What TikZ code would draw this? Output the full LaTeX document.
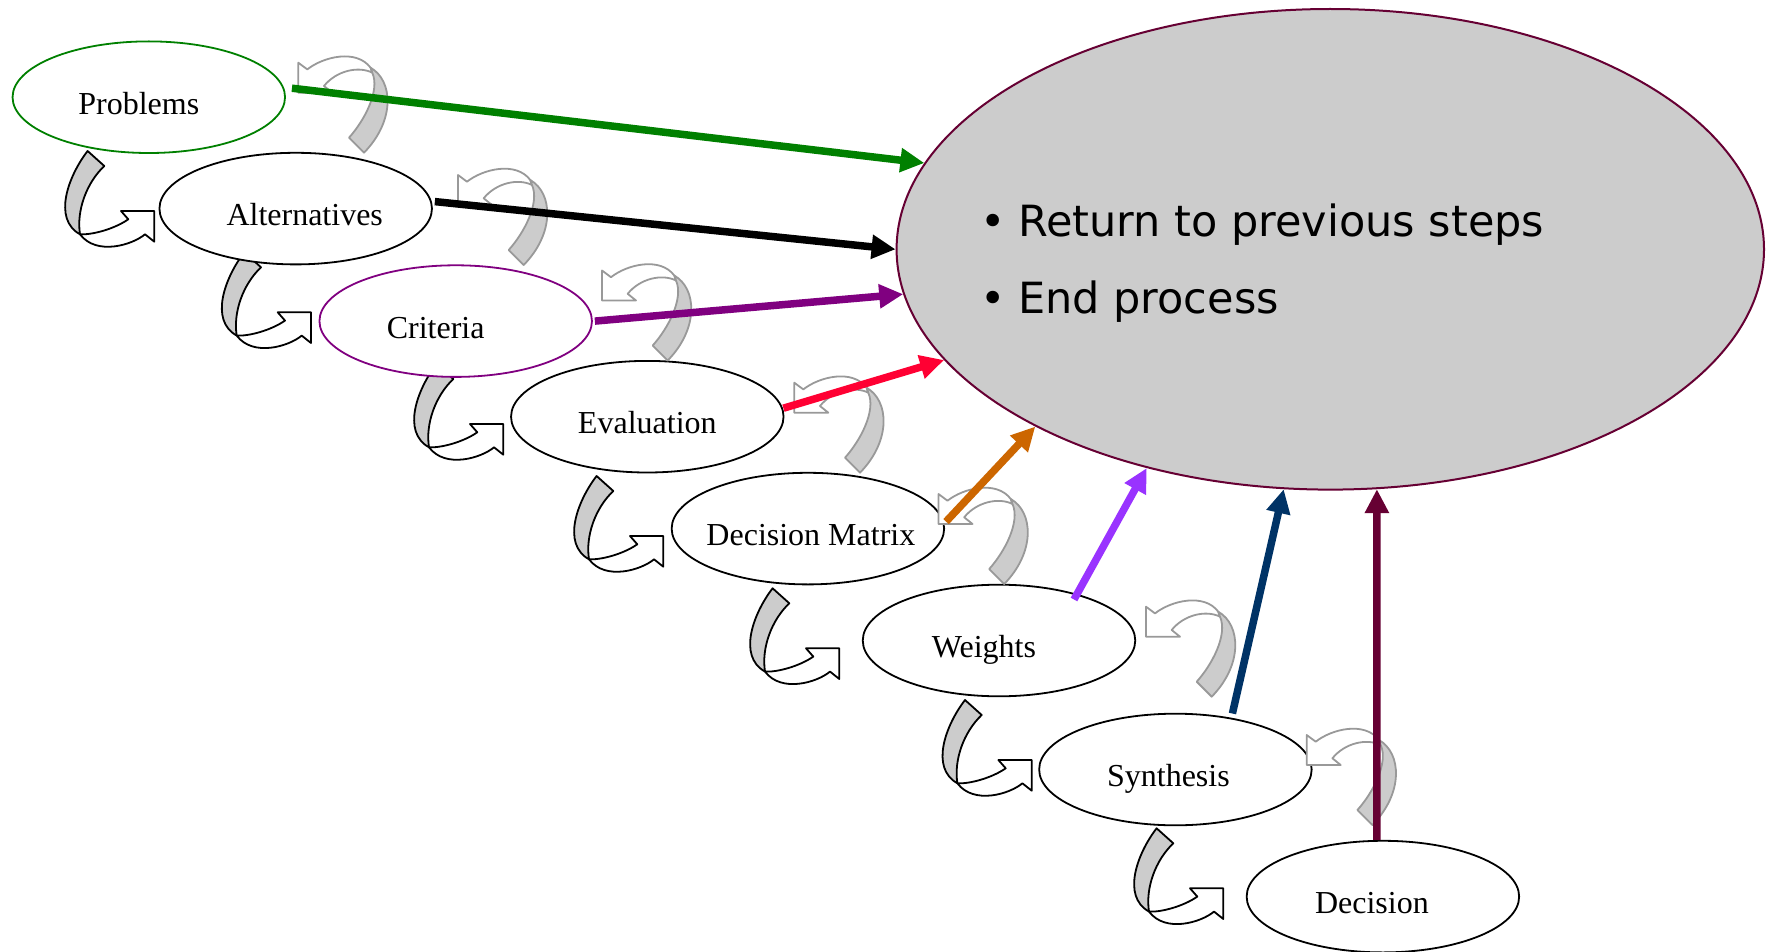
\documentclass[tikz,border=0pt]{standalone}
\usepackage{fontspec}
\setmainfont{Liberation Serif}
\newfontfamily\goalfont{DejaVu Sans}
\usetikzlibrary{shapes.geometric,arrows.meta,calc}

\definecolor{goalgray}{HTML}{CCCCCC}
\definecolor{ribbongray}{HTML}{CCCCCC}
\definecolor{edgegray}{HTML}{999999}
\definecolor{goalrim}{HTML}{660033}
\definecolor{lnkgreen}{HTML}{008000}
\definecolor{lnkpurple}{HTML}{800080}
\definecolor{lnkred}{HTML}{FF0033}
\definecolor{lnkorange}{HTML}{CC6600}
\definecolor{lnkviolet}{HTML}{9933FF}
\definecolor{lnknavy}{HTML}{003366}
\definecolor{lnkmaroon}{HTML}{660033}

\tikzset{
  stage/.style={ellipse, draw=black, line width=1.8pt, fill=white,
    minimum width=272.5pt, minimum height=111.6pt, inner sep=0pt},
  stagetext/.style={anchor=base, inner sep=0pt, font=\fontsize{32}{38}\selectfont},
  goalshape/.style={ellipse, draw=goalrim, line width=2pt, fill=goalgray,
    minimum width=867.4pt, minimum height=480.6pt, inner sep=0pt},
  goaltext/.style={anchor=base west, inner sep=0pt, font=\goalfont\fontsize{43}{50}\selectfont},
  exitline/.style={-{Triangle[length=24pt,width=23pt]}, line width=7.5pt},
  % curved arrow leading on to the next stage (origin: corner of the head)
  fwdturn/.pic={
    \filldraw[draw=black, fill=ribbongray, line width=1.8pt, line join=round]
      (-66.7,-60) .. controls (-86,-35) and (-102,8) .. (-74.3,23.3)
      .. controls (-78,0) and (-68,-28) .. (-50,-45) -- cycle;
    \filldraw[draw=black, fill=white, line width=1.8pt, line join=round]
      (-74.3,23.3) .. controls (-62,24) and (-40,18) .. (-26,8.3)
      -- (-33.3,0) -- (0,0) -- (0,30.7) -- (-9.3,23.3)
      .. controls (-22,34) and (-58,45) .. (-74.3,23.3) -- cycle;
  },
  % curved arrow turning back into the same stage
  backturn/.pic={
    \filldraw[draw=edgegray, fill=white, line width=1.8pt, line join=round]
      (0,0) -- (9,6.7) .. controls (25,-6) and (58,-14) .. (72.3,5)
      -- (74,10) .. controls (60,3) and (38,8) .. (25.7,23.3)
      -- (34,30) -- (0,30) -- cycle;
    \filldraw[draw=edgegray, fill=ribbongray, line width=1.8pt, line join=round]
      (72.3,5) .. controls (95,18) and (97,58) .. (65.7,90)
      -- (50.7,75) .. controls (66,58) and (82,28) .. (74,10) -- cycle;
  },
}

\begin{document}
\begin{tikzpicture}[x=1pt, y=-1pt]
  \useasboundingbox (0,0) rectangle (1773,952);

  % goal ellipse
  \node[goalshape] (goal) at (1330.3,249.3) {};
  \node[goaltext] (goal-a) at (1018,236.7) {\llap{\makebox[37.4pt][l]{•}}Return to previous steps};
  \node[goaltext] (goal-b) at (1018,313.3) {\llap{\makebox[37.4pt][l]{•}}End process};

  % forward turns between stages (tucked under the stage above)
  \pic at (154.3,211)    {fwdturn};
  \pic at (311,312.3)    {fwdturn};
  \pic at (503.3,424)    {fwdturn};
  \pic at (663.3,536)    {fwdturn};
  \pic at (839.3,648.3)  {fwdturn};
  \pic at (1031.7,760)   {fwdturn};
  \pic at (1223.3,888.3) {fwdturn};

  % stages
  \node[stage, draw=lnkgreen]  (prob) at (148.8,97.2) {};
  \node[stage]                 (alt)  at (295.7,208.6) {};
  \node[stage, draw=lnkpurple] (crit) at (455.7,321.1) {};
  \node[stage]                 (eval) at (647.3,416.7) {};
  \node[stage]                 (dm)   at (807.9,528.6) {};
  \node[stage]                 (wts)  at (999,640.5) {};
  \node[stage]                 (syn)  at (1175.4,769.5) {};
  \node[stage]                 (dec)  at (1382.9,896.6) {};

  \node[stagetext] (prob-t) at ($(prob.center)+(-10,17)$) {Problems};
  \node[stagetext] (alt-t)  at ($(alt.center)+(9,17)$)   {Alternatives};
  \node[stagetext] (crit-t) at ($(crit.center)+(-20,17)$) {Criteria};
  \node[stagetext] (eval-t) at ($(eval.center)+(0,17)$)  {Evaluation};
  \node[stagetext] (dm-t)   at ($(dm.center)+(3,17)$)    {Decision Matrix};
  \node[stagetext] (wts-t)  at ($(wts.center)+(-15,17)$) {Weights};
  \node[stagetext] (syn-t)  at ($(syn.center)+(-7,17)$)  {Synthesis};
  \node[stagetext] (dec-t)  at ($(dec.center)+(-11,17)$) {Decision};

  % loops back into each stage
  \pic at (298.3,62.7) {backturn};
  \pic at (458,175)    {backturn};
  \pic at (602,270.5)  {backturn};
  \pic at (794.3,382.7){backturn};
  \pic at (938.5,494)  {backturn};
  \pic at (1146,606.7) {backturn};
  \pic at (1306.7,735) {backturn};

  % exits to the goal
  \draw[exitline, color=lnkgreen]  ($(prob.east)+(6,-9)$) -- (goal.168.5);
  \draw[exitline, color=black]     ($(alt.east)+(2,-7)$)  -- (goal.180);
  \draw[exitline, color=lnkpurple] ($(crit.east)+(2,0)$)  -- (goal.186.2);
  \draw[exitline, color=lnkred]    ($(eval.east)+(-1,-8.5)$) -- (goal.196.1);
  \draw[exitline, color=lnkorange] ($(dm.east)+(1,-7)$)   -- (goal.211.5);
  \draw[exitline, color=lnkviolet] ($(wts.center)+(75,-41)$) -- (goal.230.1);
  \draw[exitline, color=lnknavy]   ($(syn.center)+(57,-56)$) -- (goal.259);
  \draw[exitline, color=lnkmaroon] ($(dec.north)+(-6,0)$) -- (goal.281);
\end{tikzpicture}
\end{document}
